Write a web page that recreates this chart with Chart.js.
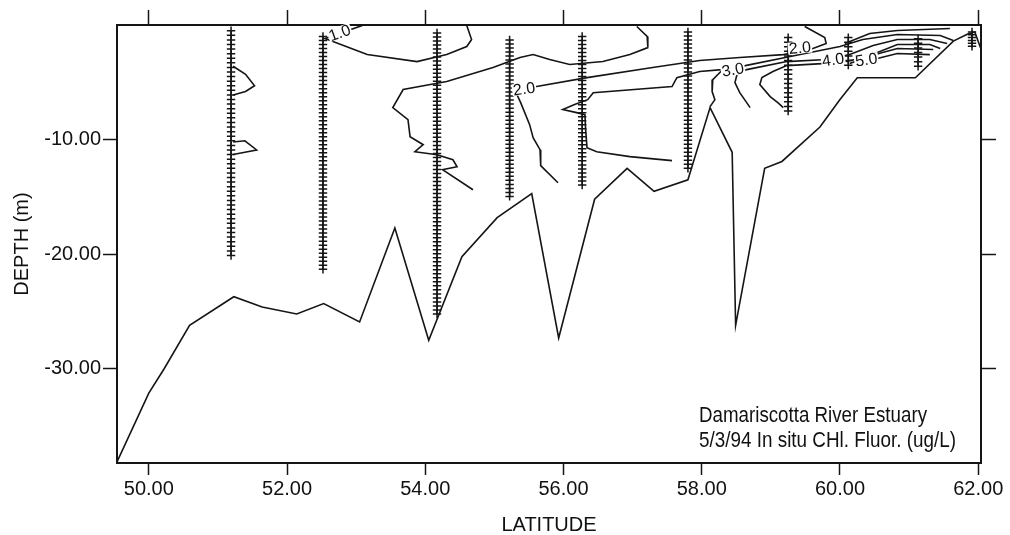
<!DOCTYPE html>
<html>
<head>
<meta charset="utf-8">
<title>Damariscotta River Estuary - In situ Chl. Fluor.</title>
<script src="https://cdn.jsdelivr.net/npm/chart.js@4.4.1/dist/chart.umd.min.js"></script>
<style>
  html, body { margin: 0; padding: 0; background: #fff; }
  #chlChart { display: block; }
</style>
</head>
<body>
<canvas id="chlChart" width="1010" height="535"></canvas>
<script>
// Axis ticks
const xTicks = [50, 52, 54, 56, 58, 60, 62];
const yTicks = [-10, -20, -30];

// Bottom profile (latitude, depth m)
const bottomLat = [49.54, 50.00, 50.22, 50.59, 51.23, 51.64, 52.14, 52.53, 53.05, 53.56, 54.05, 54.53, 55.04, 55.54, 55.93, 56.45, 56.92, 57.31, 57.80, 58.12, 58.44, 58.49, 58.91, 59.16, 59.71, 60.00, 60.25, 61.09, 61.64, 61.84, 61.95, 62.04];
const bottomDepth = [-38.1, -32.1, -30.0, -26.2, -23.7, -24.6, -25.2, -24.3, -25.9, -17.7, -27.5, -20.2, -16.8, -14.7, -27.3, -15.2, -12.5, -14.5, -13.5, -7.2, -11.1, -26.2, -12.5, -11.9, -8.9, -6.5, -4.6, -4.6, -1.4, -0.8, -0.6, -2.1];

// CTD stations: latitude, first and last sample depth, sample spacing (m)
const stationLat = [51.19, 52.52, 54.17, 55.22, 56.27, 57.80, 59.25, 60.12, 61.13, 61.91];
const stationTop = [-0.5, -1.0, -0.7, -1.3, -1.0, -0.6, -1.1, -1.1, -1.2, -0.6];
const stationBottom = [-20.2, -21.2, -25.2, -14.8, -14.1, -12.4, -7.6, -3.6, -3.8, -1.9];
const castStep = [0.4, 0.35, 0.35, 0.35, 0.35, 0.35, 0.4, 0.4, 0.4, 0.25];

// Contour lines (latitude / depth)
const bump1Lat = [51.22, 51.40, 51.53, 51.40, 51.22];
const bump1Depth = [-3.6, -4.3, -5.3, -5.8, -6.1];
const bump2Lat = [51.22, 51.39, 51.56, 51.39, 51.22];
const bump2Depth = [-10.2, -10.1, -10.9, -11.1, -11.3];

const c1Lat = [53.09, 52.55, 53.16, 53.88, 54.31, 54.60, 54.67, 54.62, 54.60];
const c1Depth = [-0.04, -1.18, -2.58, -3.19, -2.58, -1.88, -1.27, -0.39, -0.04];

const outerLat = [57.06, 57.21, 57.22, 56.96, 56.57, 56.09, 55.80, 55.56, 55.37, 54.98, 54.31, 53.68, 53.53, 53.75, 53.78, 53.97, 53.85, 54.17, 54.40, 54.46, 54.25, 54.69];
const outerDepth = [-0.13, -1.00, -1.97, -2.58, -3.19, -3.45, -3.01, -2.58, -2.84, -3.71, -4.93, -5.63, -7.21, -8.25, -9.74, -10.44, -11.05, -11.31, -11.75, -12.36, -12.62, -14.37];

const c2Lat = [59.49, 59.78, 59.80, 59.57, 59.18, 58.55, 57.97, 57.29, 56.34, 55.61, 55.30, 55.38, 55.51, 55.56, 55.66, 55.67, 55.92];
const c2Depth = [-0.13, -1.09, -1.62, -2.14, -2.58, -2.84, -3.10, -3.71, -4.59, -5.37, -5.72, -6.77, -8.69, -9.83, -10.87, -12.27, -13.76];

const c3Lat = [57.57, 56.96, 56.48, 56.34, 56.32, 56.31, 56.19, 55.99, 56.16, 56.35, 56.43, 57.57, 57.64, 57.97, 58.29, 58.63, 59.28, 60.00, 60.33, 60.83, 61.45, 61.64];
const c3Depth = [-11.83, -11.48, -11.05, -10.70, -9.13, -7.82, -7.64, -7.38, -6.94, -6.51, -5.90, -5.37, -4.59, -4.06, -3.89, -3.54, -2.75, -1.88, -1.27, -0.83, -0.92, -1.35];
const c3bLat = [58.29, 58.16, 58.15, 58.19, 58.12];
const c3bDepth = [-3.97, -4.76, -5.81, -6.51, -7.12];

const c4Lat = [58.70, 58.55, 58.48, 58.51, 58.65, 59.23, 59.81, 60.14, 60.48, 60.83, 61.30, 61.55];
const c4Depth = [-7.21, -5.90, -5.02, -4.32, -3.89, -3.19, -3.01, -2.58, -1.79, -1.27, -1.27, -1.62];

const c5Lat = [59.18, 59.10, 58.99, 58.84, 58.87, 59.03, 59.23, 60.00, 60.36, 60.83, 61.30, 61.45];
const c5Depth = [-7.21, -6.77, -6.24, -5.20, -4.59, -4.06, -3.54, -3.28, -2.84, -1.70, -1.70, -2.05];

const c6Lat = [60.14, 60.51, 60.83, 61.35];
const c6Depth = [-3.36, -2.58, -2.05, -2.14];
const c7Lat = [60.32, 60.54, 60.83, 61.30];
const c7Depth = [-3.54, -2.93, -2.49, -2.58];
const cTopLat = [60.07, 60.43, 60.83, 61.59];
const cTopDepth = [-1.62, -0.74, -0.48, -0.31];

// Contour labels
const labelText = ['1.0', '2.0', '2.0', '3.0', '4.0', '5.0'];
const labelLat = [52.76, 55.43, 59.42, 58.45, 59.90, 60.38];
const labelDepth = [-0.66, -5.55, -1.97, -3.89, -3.01, -3.01];

const noteText = ['Damariscotta River Estuary', '5/3/94 In situ CHl. Fluor. (ug/L)'];

const INK = '#151515';
const FONT = '"Liberation Sans", Arial, Helvetica, sans-serif';
Chart.defaults.font.family = FONT;

function pts(lats, depths) {
    return lats.map((x, i) => ({ x: x, y: depths[i] }));
}

// sample points of one cast
function castPoints(i) {
    const out = [];
    const n = Math.round((stationTop[i] - stationBottom[i]) / castStep[i]);
    for (let k = 0; k <= n; k++) {
        out.push({ x: stationLat[i], y: stationTop[i] - k * castStep[i] });
    }
    return out;
}

function lineSet(data, width) {
    return {
        data: data,
        showLine: true,
        borderColor: INK,
        borderWidth: width || 1.6,
        pointRadius: 0,
        tension: 0,
        fill: false
    };
}

const contourSets = [
    [bump1Lat, bump1Depth], [bump2Lat, bump2Depth], [c1Lat, c1Depth], [outerLat, outerDepth],
    [c2Lat, c2Depth], [c3Lat, c3Depth], [c3bLat, c3bDepth], [c4Lat, c4Depth],
    [c5Lat, c5Depth], [c6Lat, c6Depth], [c7Lat, c7Depth], [cTopLat, cTopDepth]
].map(c => lineSet(pts(c[0], c[1])));

const stationSets = stationLat.map((lat, i) => ({
    data: castPoints(i),
    showLine: false,
    pointStyle: 'cross',
    pointRadius: 4.2,
    pointBorderWidth: 1.5,
    pointBorderColor: INK,
    pointBackgroundColor: INK
}));

// contour value labels, drawn on white so the line breaks
const labelAngle = [-20, -8, -5, -10, -8, -8];
const contourLabels = {
    id: 'contourLabels',
    afterDatasetsDraw(chart) {
        const { ctx } = chart;
        const x = chart.scales.x, y = chart.scales.y;
        ctx.save();
        ctx.font = '16px ' + FONT;
        ctx.textAlign = 'center';
        ctx.textBaseline = 'middle';
        labelText.forEach((t, i) => {
            ctx.save();
            ctx.translate(x.getPixelForValue(labelLat[i]), y.getPixelForValue(labelDepth[i]));
            ctx.rotate(labelAngle[i] * Math.PI / 180);
            const w = ctx.measureText(t).width;
            ctx.fillStyle = '#fff';
            ctx.fillRect(-w / 2 - 1, -6, w + 2, 12);
            ctx.fillStyle = '#111';
            ctx.fillText(t, 0, 1);
            ctx.restore();
        });
        ctx.restore();
    }
};

// caption in the lower right corner
const caption = {
    id: 'caption',
    afterDraw(chart) {
        const { ctx, chartArea } = chart;
        ctx.save();
        ctx.font = '22px ' + FONT;
        ctx.fillStyle = '#111';
        ctx.textAlign = 'left';
        ctx.textBaseline = 'alphabetic';
        ctx.fillText(noteText[0], chartArea.left + 582, chartArea.top + 397, 228);
        ctx.fillText(noteText[1], chartArea.left + 582, chartArea.top + 422, 257);
        ctx.restore();
    }
};

function createChart() {
    const ctx = document.getElementById('chlChart').getContext('2d');
    const border = { display: true, color: INK, width: 2 };
    new Chart(ctx, {
        type: 'scatter',
        data: {
            datasets: [lineSet(pts(bottomLat, bottomDepth), 1.6)].concat(contourSets, stationSets)
        },
        options: {
            responsive: false,
            animation: false,
            events: [],
            layout: { padding: 0 },
            plugins: {
                legend: { display: false },
                tooltip: { enabled: false }
            },
            scales: {
                x: {
                    type: 'linear',
                    position: 'bottom',
                    min: 49.54,
                    max: 62.04,
                    afterBuildTicks: s => { s.ticks = xTicks.map(v => ({ value: v })); },
                    afterFit: s => { s.height = 72; },
                    ticks: {
                        callback: v => v.toFixed(2),
                        color: '#111',
                        font: { size: 20 },
                        padding: 2,
                        maxRotation: 0,
                        autoSkip: false
                    },
                    grid: { drawOnChartArea: false, tickLength: 12, tickWidth: 1.5, tickColor: INK },
                    border: border,
                    title: {
                        display: true,
                        text: 'LATITUDE',
                        color: '#111',
                        font: { size: 20, lineHeight: 1 },
                        padding: { top: 0, bottom: 0 }
                    }
                },
                x2: {
                    type: 'linear',
                    axis: 'x',
                    position: 'top',
                    min: 49.54,
                    max: 62.04,
                    afterBuildTicks: s => { s.ticks = xTicks.map(v => ({ value: v })); },
                    afterFit: s => { s.height = 25; },
                    ticks: { display: false },
                    grid: { drawOnChartArea: false, tickLength: 15, tickWidth: 1.5, tickColor: INK },
                    border: border
                },
                y: {
                    type: 'linear',
                    position: 'left',
                    min: -38.2,
                    max: 0,
                    afterBuildTicks: s => { s.ticks = yTicks.map(v => ({ value: v })); },
                    afterFit: s => { s.width = 117; },
                    ticks: {
                        callback: v => v.toFixed(2),
                        color: '#111',
                        font: { size: 20 },
                        padding: 2
                    },
                    grid: { drawOnChartArea: false, tickLength: 14, tickWidth: 1.5, tickColor: INK },
                    border: border,
                    title: {
                        display: true,
                        text: 'DEPTH (m)',
                        color: '#111',
                        font: { size: 20, lineHeight: 1 },
                        padding: { top: 12, bottom: 0 }
                    }
                },
                y2: {
                    type: 'linear',
                    axis: 'y',
                    position: 'right',
                    min: -38.2,
                    max: 0,
                    afterBuildTicks: s => { s.ticks = yTicks.map(v => ({ value: v })); },
                    afterFit: s => { s.width = 29; },
                    ticks: { display: false },
                    grid: { drawOnChartArea: false, tickLength: 15, tickWidth: 1.5, tickColor: INK },
                    border: border
                }
            }
        },
        plugins: [contourLabels, caption]
    });
}

createChart();
</script>
</body>
</html>
